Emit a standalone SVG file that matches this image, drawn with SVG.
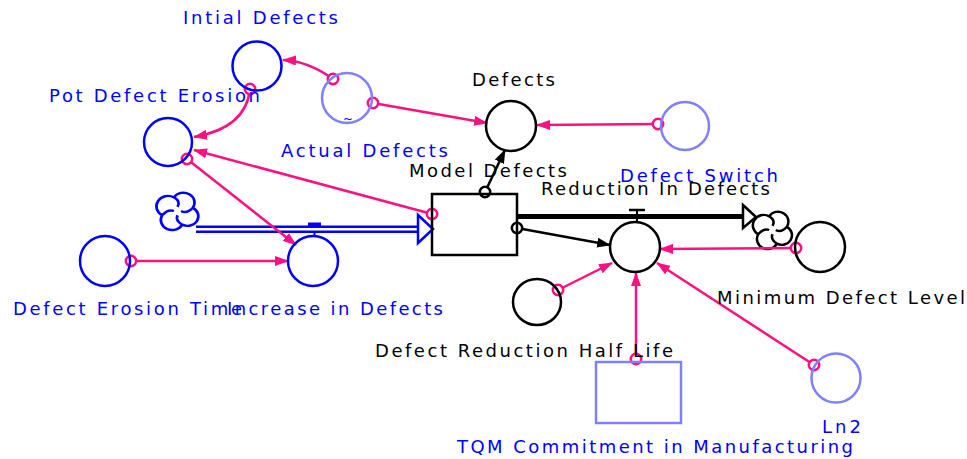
<svg xmlns="http://www.w3.org/2000/svg" width="967" height="459" viewBox="0 0 967 459">
<style>
text{font-family:"DejaVu Sans","Liberation Sans",sans-serif;font-size:18px}
.bl{fill:#0000ff}
.bk{fill:#000000}
.cb{fill:none;stroke:#0000ff;stroke-width:2.5}
.cl{fill:none;stroke:#8080ff;stroke-width:2.5}
.ck{fill:none;stroke:#000000;stroke-width:2.5}
.lp{fill:none;stroke:#ff1080;stroke-width:2.5;marker-start:url(#sp);marker-end:url(#ap)}
.lk{fill:none;stroke:#000000;stroke-width:2.5;marker-start:url(#sk);marker-end:url(#ak)}
</style>
<defs>
<marker id="ap" viewBox="0 0 14 10" refX="13" refY="5" markerWidth="14" markerHeight="10" markerUnits="userSpaceOnUse" orient="auto"><path d="M0,0 L14,5 L0,10 z" fill="#ff1080"/></marker>
<marker id="ak" viewBox="0 0 14 10" refX="13" refY="5" markerWidth="14" markerHeight="10" markerUnits="userSpaceOnUse" orient="auto"><path d="M0,0 L14,5 L0,10 z" fill="#000"/></marker>
<marker id="sp" viewBox="-7 -7 14 14" refX="0" refY="0" markerWidth="14" markerHeight="14" markerUnits="userSpaceOnUse"><circle r="5.2" fill="#fff" stroke="#ff1080" stroke-width="2.5"/></marker>
<marker id="sk" viewBox="-7 -7 14 14" refX="0" refY="0" markerWidth="14" markerHeight="14" markerUnits="userSpaceOnUse"><circle r="5.2" fill="#fff" stroke="#000" stroke-width="2.5"/></marker>
<path id="cloudshape" d="M-3,-13 A8.5,8.5 0 0 1 13,-3 A8.5,8.5 0 0 1 4,13 A8.5,8.5 0 0 1 -13,4 A8.5,8.5 0 0 1 -3,-13 Z M-3,-13 Q3,-9 0,-4 M13,-3 Q8,3 3,0 M4,13 Q-2,9 0,4 M-13,4 Q-8,-2 -3,0"/>
</defs>
<rect width="967" height="459" fill="#fff"/>

<g id="flows">
<line x1="196" y1="226.7" x2="418" y2="226.7" stroke="#0000ff" stroke-width="2.5"/>
<line x1="196" y1="231.7" x2="418" y2="231.7" stroke="#0000ff" stroke-width="2.5"/>
<path d="M418,215 L433,229 L418,243 Z" fill="#fff" stroke="#0000ff" stroke-width="2.5"/>
<rect x="308" y="222.5" width="13" height="4" fill="#0000ff"/>
<line x1="314.5" y1="231.7" x2="314.5" y2="237" stroke="#0000ff" stroke-width="2"/>
<use href="#cloudshape" transform="translate(177.5,211) scale(1.18,1.05)" fill="none" stroke="#0000ff" stroke-width="2.3"/>
<line x1="517" y1="216.5" x2="743" y2="216.5" stroke="#000" stroke-width="5"/>
<path d="M743,205 L756,217 L743,228 Z" fill="#fff" stroke="#000" stroke-width="2.5"/>
<line x1="629" y1="210" x2="645" y2="210" stroke="#000" stroke-width="2.5"/>
<line x1="637" y1="210" x2="637" y2="223" stroke="#000" stroke-width="2"/>
<use href="#cloudshape" transform="translate(772.5,230) scale(1.1,1.05)" fill="#fff" stroke="#000" stroke-width="2.3"/>
</g>

<g id="connectors">
<path class="lp" d="M333,79 Q308,61 283,60"/>
<path class="lp" d="M373,103 L487,123"/>
<path class="lp" d="M658,124 L537,125"/>
<path class="lp" d="M250,89 Q246,128 194,137"/>
<path class="lp" d="M432,214 L194,150"/>
<path class="lp" d="M187,159 L296,245"/>
<path class="lp" d="M131,261 L288,261"/>
<path class="lk" d="M485,192 L505,150"/>
<path class="lk" d="M517,228 L610,245"/>
<path class="lp" d="M796,248 L660,249"/>
<path class="lp" d="M558,290 L612,263"/>
<path class="lp" d="M636,359 L636,273"/>
<path class="lp" d="M814,365 L657,263"/>
</g>

<g id="intial-defects"><circle class="cb" cx="257" cy="66" r="24.5"/><text class="bl" x="183" y="24" textLength="155" lengthAdjust="spacing">Intial Defects</text></g>
<g id="actual-defects"><circle class="cl" cx="347" cy="98" r="25"/><text x="348" y="123" text-anchor="middle" style="font-size:12px;fill:#0000ff">~</text><text class="bl" x="281" y="157" textLength="167" lengthAdjust="spacing">Actual Defects</text></g>
<g id="pot-defect-erosion"><circle class="cb" cx="168" cy="142" r="24"/><text class="bl" x="49" y="102" textLength="211" lengthAdjust="spacing">Pot Defect Erosion</text></g>
<g id="defects"><circle class="ck" cx="511" cy="126" r="25"/><text class="bk" x="472" y="86" textLength="83" lengthAdjust="spacing">Defects</text></g>
<g id="defect-switch"><circle class="cl" cx="685" cy="126" r="24"/><text class="bl" x="620" y="182" textLength="158" lengthAdjust="spacing">Defect Switch</text></g>
<g id="model-defects"><rect x="432" y="194" width="85" height="61" fill="none" stroke="#000" stroke-width="2.5"/><text class="bk" x="409" y="177" textLength="158" lengthAdjust="spacing">Model Defects</text></g>
<g id="reduction-in-defects"><circle class="ck" cx="635" cy="247" r="25"/><text class="bk" x="541" y="195" textLength="229" lengthAdjust="spacing">Reduction In Defects</text></g>
<g id="increase-in-defects"><circle class="cb" cx="313" cy="261" r="25"/><text class="bl" x="227" y="315" textLength="216" lengthAdjust="spacing">Increase in Defects</text></g>
<g id="defect-erosion-time"><circle class="cb" cx="105" cy="261" r="25"/><text class="bl" x="13" y="315" textLength="229" lengthAdjust="spacing">Defect Erosion Time</text></g>
<g id="minimum-defect-level"><circle class="ck" cx="820" cy="247" r="25"/><text class="bk" x="717" y="304" textLength="248" lengthAdjust="spacing">Minimum Defect Level</text></g>
<g id="defect-reduction-half-life"><ellipse class="ck" cx="537" cy="302" rx="24" ry="23"/><text class="bk" x="375" y="357" textLength="298" lengthAdjust="spacing">Defect Reduction Half Life</text></g>
<g id="tqm-commitment"><rect x="596" y="362" width="85" height="61" fill="none" stroke="#8080ff" stroke-width="2.5"/><text class="bl" x="457" y="453" textLength="396" lengthAdjust="spacing">TQM Commitment in Manufacturing</text></g>
<g id="ln2"><circle class="cl" cx="836" cy="378" r="24.5"/><text class="bl" x="822" y="433" textLength="39" lengthAdjust="spacing">Ln2</text></g>
</svg>
